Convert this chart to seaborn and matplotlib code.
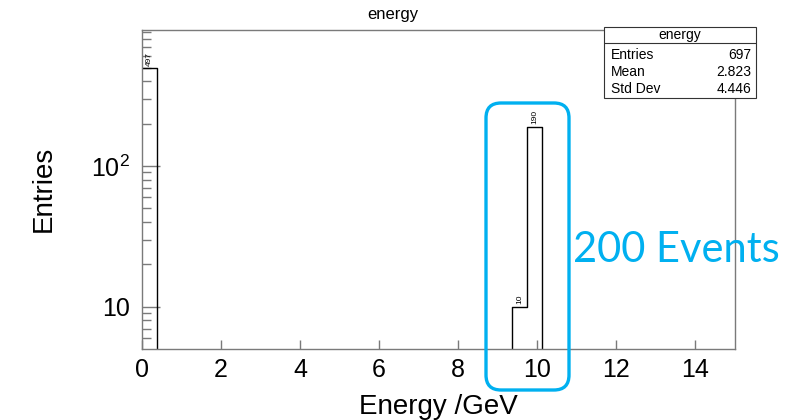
import numpy as np
import pandas as pd
import matplotlib
matplotlib.use("Agg")
import matplotlib.pyplot as plt
from matplotlib.patches import FancyBboxPatch, Rectangle
from matplotlib.transforms import IdentityTransform
import seaborn as sns

# Histogram content: 40 bins of 0.375 GeV between 0 and 15 GeV
n_bins = 40
x_range = (0.0, 15.0)
bin_centers = [0.1875, 9.5625, 9.9375]
bin_counts = [497, 10, 190]

# Statistics box
stats_title = "energy"
stats_labels = ["Entries", "Mean", "Std Dev"]
stats_values = ["697", "2.823", "4.446"]

x_ticks = [0, 2, 4, 6, 8, 10, 12, 14]
y_ticks = [10, 100]
y_tick_labels = ["10", r"$\mathregular{10^{2}}$"]

sns.set_style("ticks")
plt.rcParams["font.family"] = ["Liberation Sans", "DejaVu Sans"]
plt.rcParams["mathtext.fontset"] = "custom"
plt.rcParams["mathtext.rm"] = "Liberation Sans"
plt.rcParams["text.color"] = "black"
plt.rcParams["axes.labelcolor"] = "black"
plt.rcParams["xtick.labelcolor"] = "black"
plt.rcParams["ytick.labelcolor"] = "black"

W, H = 786, 420
fig = plt.figure(figsize=(W / 100, H / 100), dpi=100)
ax = fig.add_axes([142 / W, 1 - 348.7 / H, (734.5 - 142) / W, (348.7 - 29.5) / H])

df = pd.DataFrame({"energy": bin_centers, "entries": bin_counts})
sns.histplot(data=df, x="energy", weights="entries", bins=n_bins, binrange=x_range,
             element="step", fill=False, color="black", linewidth=1.0, ax=ax)

ax.set_yscale("log")
ax.set_xlim(*x_range)
ax.set_ylim(5.03, 933)

# bin contents written above each filled bin
for c, n in zip(bin_centers, bin_counts):
    ax.text(c, n * 1.04, str(n), rotation=90, ha="center", va="bottom",
            fontsize=6, color="black")

frame_col = "#7a7a7a"
for s in ax.spines.values():
    s.set_color(frame_col)
    s.set_linewidth(1.0)

ax.set_xticks(x_ticks)
ax.set_xticklabels([str(t) for t in x_ticks])
ax.set_yticks(y_ticks)
ax.set_yticklabels(y_tick_labels)
ax.yaxis.set_minor_locator(matplotlib.ticker.LogLocator(base=10, subs=np.arange(2, 10)))
ax.yaxis.set_minor_formatter(matplotlib.ticker.NullFormatter())
ax.tick_params(axis="x", which="major", direction="in", length=6.5, width=1.0,
               color=frame_col, labelsize=18, pad=7, labelcolor="black")
ax.tick_params(axis="y", which="major", direction="in", length=13, width=1.0,
               color=frame_col, labelsize=18, pad=9, labelcolor="black")
ax.tick_params(axis="y", which="minor", direction="in", length=6.5, width=1.0,
               color=frame_col)

ax.set_xlabel("Energy /GeV", fontsize=20, labelpad=8, color="black")
ax.set_ylabel("Entries", fontsize=20, labelpad=24, color="black")

fig.text(0.5, 1 - 15 / H, "energy", ha="center", va="center", fontsize=12)

# statistics box
bx0, bx1, by0, by1 = 604, 756, 27, 98
fig.patches.append(Rectangle((bx0 / W, 1 - by1 / H), (bx1 - bx0) / W, (by1 - by0) / H,
                             transform=fig.transFigure, facecolor="white",
                             edgecolor="#333333", linewidth=0.8, zorder=5))
fig.lines.append(plt.Line2D([bx0 / W, bx1 / W], [1 - 43 / H, 1 - 43 / H],
                            transform=fig.transFigure, color="#333333", linewidth=0.8, zorder=6))
fig.text((bx0 + bx1) / 2 / W, 1 - 35 / H, stats_title, ha="center", va="center",
         fontsize=10, zorder=7)
for i, (lab, val) in enumerate(zip(stats_labels, stats_values)):
    yy = 1 - (55 + 17 * i) / H
    fig.text(611 / W, yy, lab, ha="left", va="center", fontsize=10, zorder=7)
    fig.text(751 / W, yy, val, ha="right", va="center", fontsize=10, zorder=7)

# highlighted region and annotation
blue = "#00B0F0"
box = FancyBboxPatch((486, H - 390), 569 - 486, 390 - 103,
                     boxstyle="round,pad=0,rounding_size=15",
                     transform=IdentityTransform(), facecolor="none",
                     edgecolor=blue, linewidth=2.4, zorder=8)
fig.patches.append(box)
fig.text(573 / W, 1 - 250 / H, "200 Events", ha="left", va="center",
         fontsize=30, color=blue, family=["Lato", "DejaVu Sans"], zorder=1)

fig.savefig("out.png", dpi=100)
